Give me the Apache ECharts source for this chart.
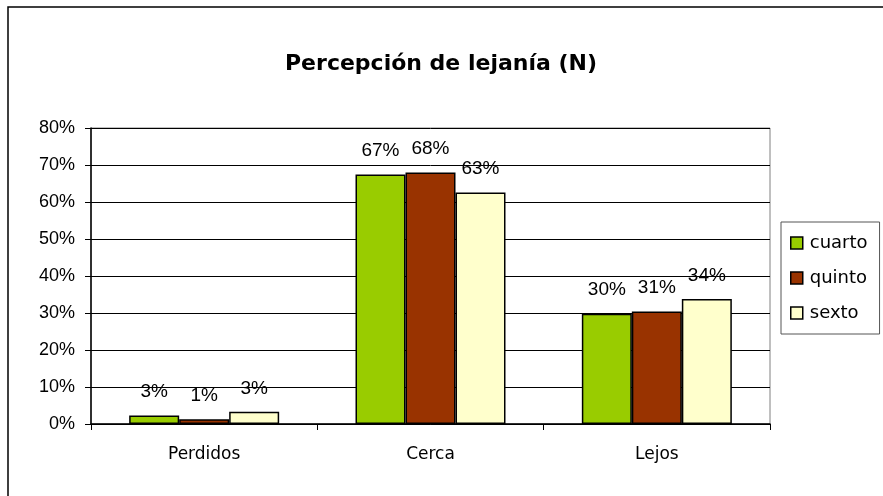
<!DOCTYPE html>
<html>
<head>
<meta charset="utf-8">
<script src="https://cdn.jsdelivr.net/npm/echarts@6/dist/echarts.min.js"></script>
<style>
  html, body { margin: 0; padding: 0; background: #fff; }
  #chart { width: 883px; height: 496px; }
</style>
</head>
<body>
<div id="chart"></div>
<script>
// data
const categories = ["Perdidos", "Cerca", "Lejos"];
const seriesNames = ["cuarto", "quinto", "sexto"];
const cuarto = [2.3, 67.4, 29.8];
const quinto = [1.3, 68.0, 30.4];
const sexto = [3.3, 62.6, 33.8];
const cuartoLabels = ["3%", "67%", "30%"];
const quintoLabels = ["1%", "68%", "31%"];
const sextoLabels = ["3%", "63%", "34%"];

const colors = ["#99cc00", "#993300", "#ffffcc"];
const comic = "'Comic Sans MS', 'DejaVu Sans', sans-serif";
const arial = "'Liberation Sans', Arial, sans-serif";

const chart = echarts.init(document.getElementById("chart"));

function makeSeries(name, values, labels, color) {
  return {
    name: name,
    type: "bar",
    data: values,
    barWidth: 50,
    barGap: "0%",
    itemStyle: { color: color, borderColor: "#000", borderWidth: 1.5 },
    label: {
      show: true,
      position: "top",
      distance: 14,
      color: "#000",
      fontFamily: arial,
      fontSize: 19,
      formatter: (p) => labels[p.dataIndex],
    },
  };
}

chart.setOption({
  animation: false,
  backgroundColor: "#fff",
  graphic: [
    {
      type: "rect",
      shape: { x: 8, y: 7, width: 900, height: 520 },
      style: { fill: "none", stroke: "#000", lineWidth: 1.5 },
      silent: true,
    },
  ],
  title: {
    text: "Percepción de lejanía (N)",
    left: 436,
    top: 48,
    textAlign: "center",
    textStyle: { fontFamily: comic, fontSize: 22, fontWeight: "bold", color: "#000" },
  },
  legend: {
    orient: "vertical",
    left: 781,
    top: 222,
    width: 101,
    padding: [12, 12, 12, 9],
    itemGap: 17,
    itemWidth: 12,
    itemHeight: 12,
    icon: "rect",
    borderColor: "#555",
    borderWidth: 1,
    data: seriesNames,
    itemStyle: { borderColor: "#000", borderWidth: 1.5 },
    textStyle: { fontFamily: comic, fontSize: 18, color: "#000", padding: [0, 0, 0, 2] },
  },
  grid: {
    left: 91,
    right: 113,
    top: 128,
    bottom: 72,
    show: true,
    borderColor: "#808080",
    borderWidth: 1,
  },
  xAxis: {
    type: "category",
    data: categories,
    axisLine: { lineStyle: { color: "#000", width: 1.5 } },
    axisTick: { show: true, length: 6, lineStyle: { color: "#000" } },
    axisLabel: { margin: 22, fontFamily: comic, fontSize: 17, color: "#000" },
  },
  yAxis: {
    type: "value",
    min: 0,
    max: 80,
    interval: 10,
    axisLine: { show: true, lineStyle: { color: "#000", width: 1.5 } },
    axisTick: { show: true, length: 6, lineStyle: { color: "#000" } },
    axisLabel: { margin: 16, fontFamily: arial, fontSize: 18, color: "#000", formatter: "{value}%" },
    splitLine: { lineStyle: { color: "#000", width: 1 } },
  },
  series: [
    makeSeries(seriesNames[0], cuarto, cuartoLabels, colors[0]),
    makeSeries(seriesNames[1], quinto, quintoLabels, colors[1]),
    makeSeries(seriesNames[2], sexto, sextoLabels, colors[2]),
  ],
});
</script>
</body>
</html>
